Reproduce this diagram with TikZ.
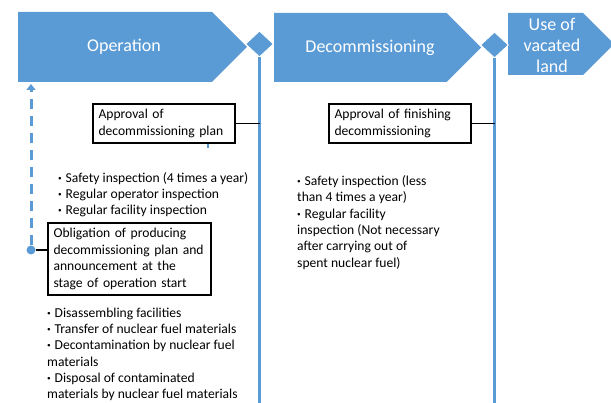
\documentclass[tikz,border=0pt]{standalone}
\usepackage{fontspec}
\setmainfont{Carlito}
\usepackage{tikz}
\usetikzlibrary{positioning,shapes,calc,arrows.meta}

\definecolor{phaseblue}{HTML}{5B9BD5}

\begin{document}
\begin{tikzpicture}[x=1pt,y=-1pt]
	
	\tikzset{phasestyle/.style={fill=phaseblue}}
	\tikzset{headtext/.style={text=white, font=\fontsize{18}{21}\selectfont, align=center}}
	\tikzset{gatestyle/.style={diamond, fill=phaseblue, draw=white, line width=0.8pt, minimum width=28pt, minimum height=26pt, inner sep=0pt}}
	\tikzset{timeline/.style={draw=phaseblue, line width=3pt}}
	\tikzset{boxstyle/.style={draw, line width=1.8pt, align=left, inner xsep=5pt, inner ysep=1pt, font=\fontsize{13.6}{16.4}\selectfont}}
	\tikzset{liststyle/.style={anchor=north west, inner sep=0pt, align=left, font=\fontsize{13.6}{16.3}\selectfont}}
	\tikzset{linkstyle/.style={-, line width=1.6pt}}
	
	\newcommand\bul{\makebox[7.5pt][l]{\textbf{\textperiodcentered}}}
	
	\newcommand\phase[5] % {name}{left}{top}{tip}{bottom}
	{
		\path[phasestyle] (#2,#3) -- ({#4-(#5-#3)/2},#3) -- (#4,{(#3+#5)/2})
			-- ({#4-(#5-#3)/2},#5) -- (#2,#5) -- cycle;
		\coordinate (#1) at ({(#2+#4)/2},{(#3+#5)/2});
	}
	
	\useasboundingbox (0,0) rectangle (611,403);
	
	\phase{op}{18}{12}{247}{82}
	\phase{dec}{274}{13}{481}{82}
	\phase{use}{508}{13}{614}{75}
	
	\node[headtext] at (124,47) (opText) {Operation};
	\node[headtext] at (370,48) (decText) {Decommissioning};
	\node[headtext] at (552,45) (useText) {Use of\\vacated\\land};
	
	\node[gatestyle] at (259.5,44) (gate1) {};
	\node[gatestyle] at (494.5,45) (gate2) {};
	\coordinate (end1) at (259.5,403);
	\coordinate (end2) at (494.5,403);
	\draw[timeline] (gate1.south) -- (end1);
	\draw[timeline] (gate2.south) -- (end2);
	
	% boxes
	\node[boxstyle, minimum width=142pt, minimum height=39pt, text width=131pt] at (164,123.5) (apprPlan) {Approval of\\decommissioning plan};
	\node[boxstyle, minimum width=142pt, minimum height=39pt, text width=131pt] at (400,123.5) (apprEnd) {Approval of finishing\\decommissioning};
	\node[boxstyle, minimum width=163pt, minimum height=72pt, text width=152pt] at (129.5,259) (oblig) {Obligation of producing\\decommissioning plan and\\announcement at the\\stage of operation start};
	
	\draw[linkstyle] (apprPlan.east) -- (apprPlan.east -| gate1.south);
	\draw[linkstyle] (apprEnd.east) -- (apprEnd.east -| gate2.south);
	\draw[timeline, line width=2pt] ([xshift=44pt]apprPlan.south) -- ++(0,4);
	
	% dashed return to operation
	\coordinate (upTip) at (31,84);
	\node[circle, fill=phaseblue, inner sep=0pt, minimum size=9pt] at (31,250) (startDot) {};
	\draw[timeline, dash pattern=on 10pt off 7pt, -{Triangle[width=9pt,length=6pt]}] (startDot) -- (upTip);
	\draw[linkstyle] (startDot) -- (startDot -| oblig.west);
	
	% lists
	\node[liststyle] at (58,172) (opList) {\bul Safety inspection (4 times a year)\\\bul Regular operator inspection\\\bul Regular facility inspection};
	\node[liststyle] at (47,307.5) (decList) {\bul Disassembling facilities\\\bul Transfer of nuclear fuel materials\\\bul Decontamination by nuclear fuel\\materials\\\bul Disposal of contaminated\\materials by nuclear fuel materials};
	\node[liststyle] at (297,175.5) (endList) {\bul Safety inspection (less\\than 4 times a year)\\\bul Regular facility\\inspection (Not necessary\\after carrying out of\\spent nuclear fuel)};
	
\end{tikzpicture}
\end{document}
